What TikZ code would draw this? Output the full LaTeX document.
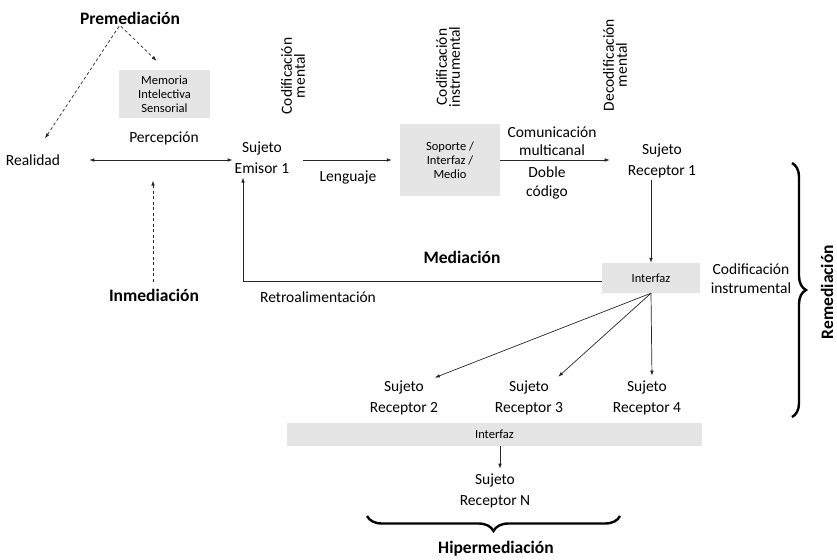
\documentclass[tikz,border=0pt]{standalone}
\usepackage{fontspec}
\setmainfont{Carlito}
\usetikzlibrary{arrows.meta,decorations.pathreplacing}
\tikzset{
  txt/.style={align=center, inner sep=2pt, font=\fontsize{15.5}{21}\selectfont},
  title/.style={inner sep=2pt, font=\fontsize{17.5}{21}\selectfont\bfseries},
  vtxt/.style={rotate=90, align=center, inner sep=1pt, font=\fontsize{15.5}{13}\selectfont},
  graybox/.style={fill=black!10, align=center, inner sep=0pt, font=\fontsize{12.5}{14}\selectfont},
  arr/.style={-{Latex[length=5pt,width=3.6pt]}, line width=0.7pt, black!85},
  dasharr/.style={arr, dash pattern=on 3pt off 2.5pt},
  bigbrace/.style={decorate, line width=2.4pt}
}
\begin{document}
\begin{tikzpicture}[x=1pt,y=-1pt]
%%%%% START %%%%%
\useasboundingbox (0,0) rectangle (837,559);

% titles
\node[title] (pre) at (130,18) {Premediación};
\node[title] (inm) at (154,295) {Inmediación};
\node[title] (med) at (462,257) {Mediación};
\node[title] (hiper) at (496,549) {Hipermediación};
\node[title, rotate=90, inner sep=0pt] (rem) at (827,292) {Remediación};

% gray boxes
\node[graybox, minimum width=91pt, minimum height=48pt] (mem) at (164.5,94) {Memoria\\Intelectiva\\Sensorial};
\node[graybox, minimum width=100pt, minimum height=72pt] (sop) at (450,160) {Soporte /\\Interfaz /\\Medio};
\node[graybox, minimum width=98pt, minimum height=30pt] (int1) at (651,278) {Interfaz};
\node[graybox, minimum width=415pt, minimum height=23pt] (int2) at (494.5,434.5) {Interfaz};

% subjects
\node[txt] (real) at (33,160) {Realidad};
\node[txt] (emi) at (262,157.5) {Sujeto\\Emisor 1};
\node[txt] (rec1) at (662,160.5) {Sujeto\\Receptor 1};
\node[txt] (r2) at (404,398) {Sujeto\\Receptor 2};
\node[txt] (r3) at (529,398) {Sujeto\\Receptor 3};
\node[txt] (r4) at (647,398) {Sujeto\\Receptor 4};
\node[txt] (recN) at (495,491) {Sujeto\\Receptor N};

% labels
\node[txt] (perc) at (164,138) {Percepción};
\node[txt] (leng) at (348,177) {Lenguaje};
\node[txt, font=\fontsize{15.5}{18}\selectfont] (com) at (552,141) {Comunicación\\multicanal};
\node[txt, font=\fontsize{15.5}{19}\selectfont] (doble) at (547,182.5) {Doble\\código};
\node[txt] (retro) at (318,297) {Retroalimentación};
\node[txt, font=\fontsize{15.5}{19}\selectfont] (codins) at (751,278.5) {Codificación\\instrumental};
\node[vtxt] (codm) at (293,76) {Codificación\\mental};
\node[vtxt] (codi) at (448,67) {Codificación\\instrumental};
\node[vtxt] (decm) at (615,65) {Decodificación\\mental};

% dashed arrows
\draw[dasharr] ([xshift=-11pt]pre.south) -- ([xshift=12pt,yshift=14pt]real.north);
\draw[dasharr] ([xshift=-9pt]pre.south) -- ([xshift=-8pt,yshift=9pt]mem.north);
\draw[dasharr] ([xshift=-1pt,yshift=5pt]inm.north) -- ++(0,-101);

% main chain
\draw[{Latex[length=5pt,width=3.6pt]}-{Latex[length=5pt,width=3.6pt]}, line width=0.7pt, black!85, shorten <=27pt] (real.east) -- (real.east -| emi.west);
\draw[arr, shorten <=12pt, shorten >=8pt] (emi.east |- sop.west) -- (sop.west);
\draw[arr, shorten >=16pt] (sop.east) -- (sop.east -| rec1.west);
\draw[arr] (int1.north |- rec1.south) -- (int1.north);
\draw[arr, shorten >=2pt] ([yshift=-3pt]int1.west) -| ([xshift=-19pt]emi.south);

% fan out
\draw[arr, shorten >=3pt] (int1.south) -- ([xshift=28pt]r2.north);
\draw[arr, shorten >=3pt] (int1.south) -- ([xshift=27pt]r3.north);
\draw[arr, shorten >=3pt] (int1.south) -- ([xshift=5pt]r4.north);
\draw[arr, shorten >=3pt] ([xshift=5.5pt]int2.south) -- ([xshift=5.5pt]int2.south |- recN.north);

% braces
\draw[bigbrace, decoration={brace, amplitude=14pt}] (792,163) -- (792,417);
\draw[bigbrace, decoration={brace, amplitude=15pt}] (620,516) -- (367,516);

%%%%% END %%%%%
\end{tikzpicture}
\end{document}
